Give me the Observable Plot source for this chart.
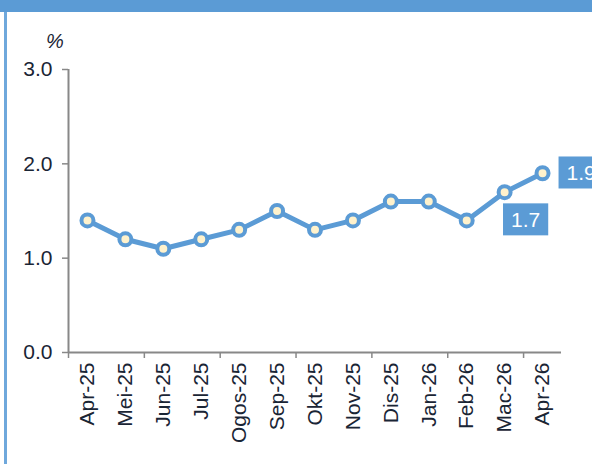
<!DOCTYPE html>
<html>
<head>
<meta charset="utf-8">
<script src="https://cdn.jsdelivr.net/npm/d3@7"></script>
<script src="https://cdn.jsdelivr.net/npm/@observablehq/plot@0.6"></script>
<style>
  html, body { margin: 0; padding: 0; background: #fff; }
  #wrap { position: relative; width: 592px; height: 464px; overflow: hidden; background: #fff; }
  #topbar { position: absolute; left: 0; top: 0; width: 592px; height: 12px; background: #5b9bd5; }
  #leftbar { position: absolute; left: 4px; top: 12px; width: 3px; height: 452px; background: #6fa8dc; }
  #unit { position: absolute; left: 46px; top: 30px; font: italic 20px "Liberation Sans", Arial, sans-serif; color: #1a2535; }
  #chart { position: absolute; left: 0; top: 0; }
</style>
</head>
<body>
<div id="wrap">
  <div id="topbar"></div>
  <div id="leftbar"></div>
  <div id="chart"></div>
  <div id="unit">%</div>
</div>
<script>
const categories = ["Apr-25","Mei-25","Jun-25","Jul-25","Ogos-25","Sep-25","Okt-25","Nov-25","Dis-25","Jan-26","Feb-26","Mac-26","Apr-26"];
const values = [1.4, 1.2, 1.1, 1.2, 1.3, 1.5, 1.3, 1.4, 1.6, 1.6, 1.4, 1.7, 1.9];
const yTicks = [0, 1, 2, 3];
const labelledCategories = ["Mac-26", "Apr-26"];

const data = categories.map((c, i) => ({cat: c, i: i + 0.5, v: values[i]}));
const labelData = data.filter(d => labelledCategories.includes(d.cat));

const blue = "#5b9bd5";
const axisGrey = "#888888";
const textColor = "#1a2535";
const font = "'Liberation Sans', Arial, sans-serif";

const chart = Plot.plot({
  width: 592,
  height: 464,
  marginLeft: 68,
  marginRight: 31,
  marginTop: 69,
  marginBottom: 112,
  style: {fontFamily: font, background: "transparent", overflow: "visible"},
  x: {type: "linear", domain: [0, categories.length]},
  y: {domain: [0, 3]},
  marks: [
    Plot.axisY({ticks: yTicks, tickFormat: d => d.toFixed(1), tickSize: 6, tickPadding: 10,
      fontSize: 21, stroke: axisGrey, fill: textColor, label: null, strokeWidth: 1.5}),
    Plot.axisX({ticks: d3.range(0, categories.length + 1, 2), tickSize: 6, tickFormat: () => "",
      stroke: axisGrey, label: null, strokeWidth: 1.5}),
    Plot.axisX({ticks: data.map(d => d.i), tickFormat: d => categories[Math.round(d - 0.5)],
      tickSize: 0, tickPadding: 10, tickRotate: -90, fontSize: 21, fill: textColor, label: null}),
    Plot.ruleY([0], {stroke: axisGrey, strokeWidth: 2}),
    Plot.ruleX([0], {stroke: axisGrey, strokeWidth: 2}),
    Plot.line(data, {x: "i", y: "v", stroke: blue, strokeWidth: 5}),
    Plot.dot(data, {x: "i", y: "v", r: 6, fill: "#fff2cc", stroke: blue, strokeWidth: 4}),
    Plot.text(labelData.filter(d => d.cat === "Mac-26"), {x: "i", y: "v", text: d => d.v.toFixed(1),
      dx: 21, dy: 28, fill: "white", fontSize: 21, textAnchor: "middle", className: "lbl"}),
    Plot.text(labelData.filter(d => d.cat === "Apr-26"), {x: "i", y: "v", text: d => d.v.toFixed(1),
      dx: 24, dy: 0, fill: "white", fontSize: 21, textAnchor: "start", className: "lbl"})
  ]
});

document.getElementById("chart").append(chart);

// Blue boxes behind the data labels, sized from the rendered text
chart.querySelectorAll("g.lbl text").forEach(t => {
  const b = t.getBBox();
  const rect = document.createElementNS("http://www.w3.org/2000/svg", "rect");
  const h = 32;
  rect.setAttribute("x", b.x - 8);
  rect.setAttribute("y", b.y + b.height / 2 - h / 2);
  rect.setAttribute("width", b.width + 16);
  rect.setAttribute("height", h);
  rect.setAttribute("fill", blue);
  const tr = t.getAttribute("transform");
  if (tr) rect.setAttribute("transform", tr);
  t.parentNode.insertBefore(rect, t);
});
</script>
</body>
</html>
